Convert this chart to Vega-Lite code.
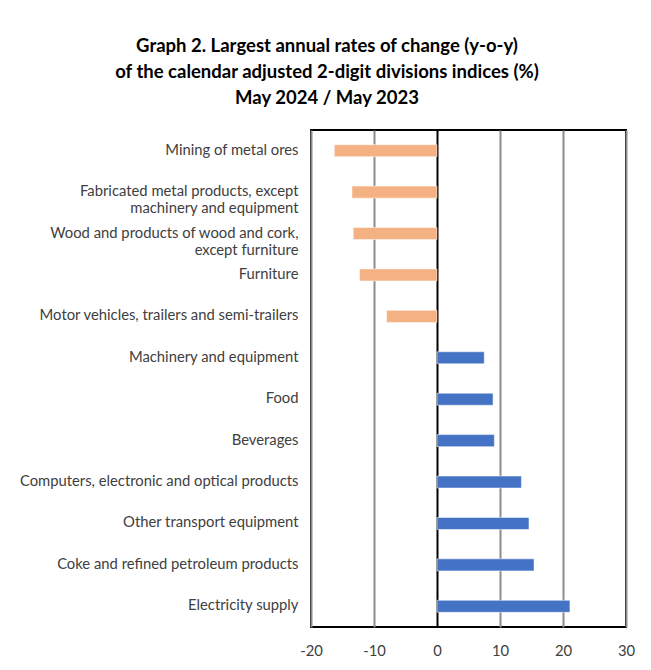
{
  "$schema": "https://vega.github.io/schema/vega-lite/v6.json",
  "width": 315,
  "height": 497,
  "autosize": {"type": "pad"},
  "padding": {"left": 19, "top": 36, "right": 18, "bottom": 5},
  "background": "white",
  "title": {
    "text": ["Graph 2. Largest annual rates of change (y-o-y)", "of the calendar adjusted 2-digit divisions indices (%)", "May 2024 / May 2023"],
    "font": "Lato",
    "fontSize": 18.5,
    "fontWeight": "bold",
    "color": "#000000",
    "lineHeight": 26,
    "anchor": "middle",
    "frame": "bounds",
    "offset": 23
  },
  "config": {
    "view": {"stroke": "#000000", "strokeWidth": 2},
    "axis": {"labelFont": "Lato", "labelColor": "#404040", "labelFontSize": 14.8}
  },
  "data": {
    "values": [
      {"division": "Mining of metal ores", "change": -16.3, "sign": "neg"},
      {"division": "Fabricated metal products, except|machinery and equipment", "change": -13.5, "sign": "neg"},
      {"division": "Wood and products of wood and cork,|except furniture", "change": -13.3, "sign": "neg"},
      {"division": "Furniture", "change": -12.3, "sign": "neg"},
      {"division": "Motor vehicles, trailers and semi-trailers", "change": -8.0, "sign": "neg"},
      {"division": "Machinery and equipment", "change": 7.5, "sign": "pos"},
      {"division": "Food", "change": 8.9, "sign": "pos"},
      {"division": "Beverages", "change": 9.1, "sign": "pos"},
      {"division": "Computers, electronic and optical products", "change": 13.4, "sign": "pos"},
      {"division": "Other transport equipment", "change": 14.6, "sign": "pos"},
      {"division": "Coke and refined petroleum products", "change": 15.4, "sign": "pos"},
      {"division": "Electricity supply", "change": 21.1, "sign": "pos"}
    ]
  },
  "mark": {"type": "bar", "stroke": "#ffffff", "strokeWidth": 0.5},
  "encoding": {
    "y": {
      "field": "division",
      "type": "nominal",
      "sort": null,
      "scale": {"paddingInner": 0.71, "paddingOuter": 0.355},
      "axis": {
        "title": null,
        "ticks": false,
        "domain": false,
        "labelPadding": 13,
        "labelLimit": 400,
        "labelLineHeight": 17,
        "labelExpr": "split(datum.label, '|')"
      }
    },
    "x": {
      "field": "change",
      "type": "quantitative",
      "scale": {"domain": [-20, 30], "nice": false},
      "axis": {
        "title": null,
        "values": [-20, -10, 0, 10, 20, 30],
        "ticks": false,
        "domain": false,
        "labelPadding": 16,
        "labelFlush": false,
        "labelExpr": "'' + datum.value",
        "gridColor": {"condition": {"test": "datum.value === 0", "value": "#000000"}, "value": "#8c8c8c"},
        "gridWidth": 2,
        "gridOpacity": 1
      }
    },
    "color": {
      "field": "sign",
      "type": "nominal",
      "scale": {"domain": ["neg", "pos"], "range": ["#F4B183", "#4472C4"]},
      "legend": null
    }
  }
}
